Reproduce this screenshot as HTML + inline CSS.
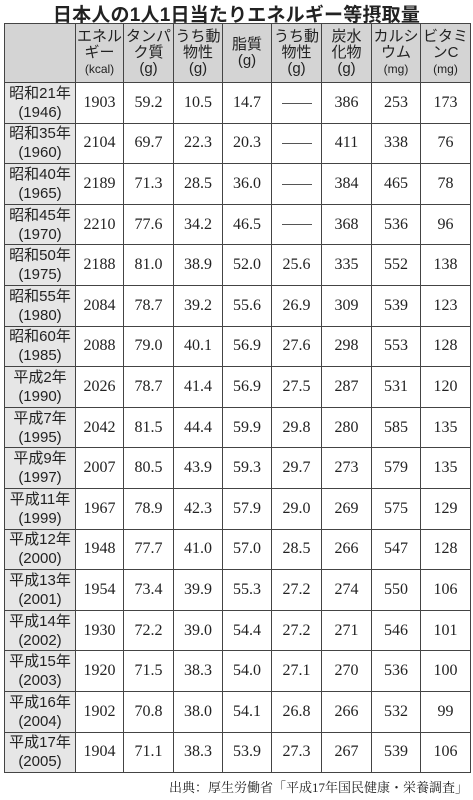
<!DOCTYPE html>
<html><head><meta charset="utf-8">
<style>
body{margin:0;width:473px;height:800px;background:#fff;overflow:hidden;position:relative;font-family:"Liberation Sans","Noto Sans CJK JP",sans-serif;color:#222}
#title{position:absolute;left:0;top:0px;width:473px;text-align:center;font-size:19px;font-weight:bold;letter-spacing:0.2px}
table{position:absolute;left:4px;top:23px;border-collapse:collapse;table-layout:fixed}
td,th{border:1.5px solid #444;padding:0;text-align:center;overflow:hidden}
th{background:#d4d4d4;font-weight:normal;font-size:15px;line-height:16px;height:58px}
th small{font-size:12px}
tr.r{height:40.6px}
td{font-family:"Liberation Serif","Noto Serif CJK SC",serif;font-size:16px}
td.lab{background:#e6e6e6;font-family:"Liberation Sans","Noto Sans CJK JP",sans-serif;font-size:15px;line-height:19px}
#src{position:absolute;right:5px;top:777px;font-family:"Liberation Serif","Noto Serif CJK SC",serif;font-size:13px}
</style></head><body>
<div id="title">日本人の1人1日当たりエネルギー等摂取量</div>
<table id="tbl">
<colgroup><col style="width:71px"><col style="width:48px"><col style="width:50px"><col style="width:49px"><col style="width:49px"><col style="width:50px"><col style="width:50px"><col style="width:49px"><col style="width:50px"></colgroup>
<tr>
<th></th>
<th>エネル<br>ギー<br><small>(kcal)</small></th>
<th>タンパ<br>ク質<br>(g)</th>
<th>うち動<br>物性<br>(g)</th>
<th>脂質<br>(g)</th>
<th>うち動<br>物性<br>(g)</th>
<th>炭水<br>化物<br>(g)</th>
<th>カルシ<br>ウム<br><small>(mg)</small></th>
<th>ビタミ<br>ンC<br><small>(mg)</small></th>
</tr>
</table>
<div id="src">出典：厚生労働省「平成17年国民健康・栄養調査」</div>
<script>
const eras=["昭和21年","昭和35年","昭和40年","昭和45年","昭和50年","昭和55年","昭和60年","平成2年","平成7年","平成9年","平成11年","平成12年","平成13年","平成14年","平成15年","平成16年","平成17年"];
const years=["1946","1960","1965","1970","1975","1980","1985","1990","1995","1997","1999","2000","2001","2002","2003","2004","2005"];
const energy=["1903","2104","2189","2210","2188","2084","2088","2026","2042","2007","1967","1948","1954","1930","1920","1902","1904"];
const protein=["59.2","69.7","71.3","77.6","81.0","78.7","79.0","78.7","81.5","80.5","78.9","77.7","73.4","72.2","71.5","70.8","71.1"];
const animalProtein=["10.5","22.3","28.5","34.2","38.9","39.2","40.1","41.4","44.4","43.9","42.3","41.0","39.9","39.0","38.3","38.0","38.3"];
const fat=["14.7","20.3","36.0","46.5","52.0","55.6","56.9","56.9","59.9","59.3","57.9","57.0","55.3","54.4","54.0","54.1","53.9"];
const animalFat=["——","——","——","——","25.6","26.9","27.6","27.5","29.8","29.7","29.0","28.5","27.2","27.2","27.1","26.8","27.3"];
const carbs=["386","411","384","368","335","309","298","287","280","273","269","266","274","271","270","266","267"];
const calcium=["253","338","465","536","552","539","553","531","585","579","575","547","550","546","536","532","539"];
const vitC=["173","76","78","96","138","123","128","120","135","135","129","128","106","101","100","99","106"];
const tbl=document.getElementById('tbl');
const cols=[energy,protein,animalProtein,fat,animalFat,carbs,calcium,vitC];
const names=["energy","protein","animal-protein","fat","animal-fat","carbs","calcium","vitamin-c"];
for(let i=0;i<eras.length;i++){
  const tr=document.createElement('tr');
  tr.className='r';
  
  
  const l=document.createElement('td');l.className='lab';
  l.innerHTML=eras[i]+'<br>('+years[i]+')';
  
  
  tr.appendChild(l);
  for(let c=0;c<cols.length;c++){
    const td=document.createElement('td');
    const v=cols[c][i];
    if(v==="——"){td.innerHTML='<span style="display:inline-block;width:30px;border-top:1px solid #555;vertical-align:middle"></span>';}
    else td.textContent=v;
    
    
    tr.appendChild(td);
  }
  tbl.appendChild(tr);
}
</script>
</body></html>
